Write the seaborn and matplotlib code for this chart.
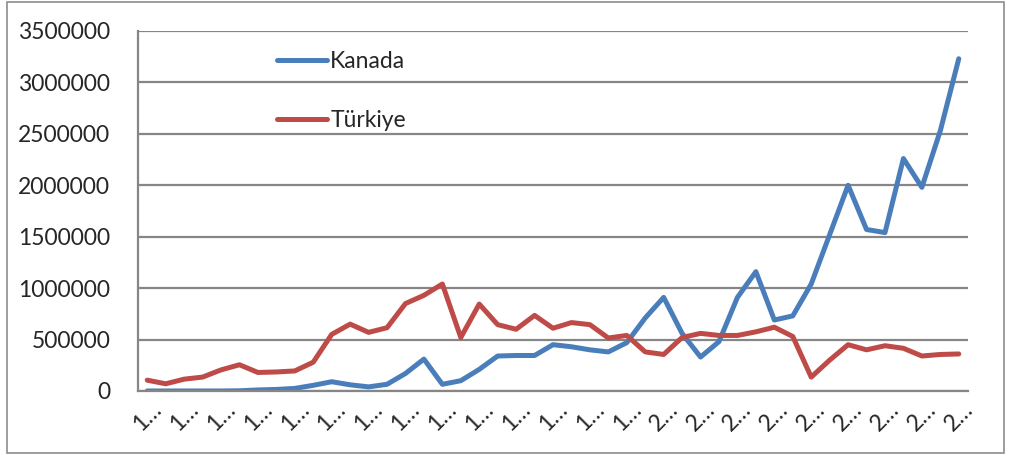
import matplotlib
matplotlib.use("Agg")
import matplotlib.pyplot as plt
import pandas as pd
import seaborn as sns
from matplotlib.patches import Rectangle

# data
years = list(range(1972, 2017))
kanada = [0, 0, 0, 0, 0, 2000, 10000, 15000, 25000, 55000,
          90000, 60000, 40000, 65000, 170000, 310000, 65000, 100000, 210000, 340000,
          345000, 345000, 450000, 430000, 400000, 380000, 470000, 710000, 910000, 560000,
          330000, 480000, 910000, 1160000, 690000, 730000, 1040000, 1520000, 2000000, 1570000,
          1540000, 2260000, 1980000, 2530000, 3230000]
turkiye = [105000, 70000, 115000, 135000, 205000, 255000, 180000, 185000, 195000, 280000,
           550000, 650000, 570000, 615000, 850000, 930000, 1040000, 520000, 845000, 645000,
           600000, 735000, 610000, 665000, 645000, 515000, 540000, 380000, 355000, 520000,
           560000, 540000, 540000, 575000, 620000, 530000, 135000, 300000, 450000, 400000,
           440000, 415000, 340000, 355000, 360000]
series_names = ["Kanada", "Türkiye"]
colors = ["#4A7EBB", "#BE4B48"]
y_ticks = [0, 500000, 1000000, 1500000, 2000000, 2500000, 3000000, 3500000]
# Excel truncated the year labels to the first digit
x_labels = [str(y)[0] + "\u2026" for y in years]

df = pd.DataFrame({"idx": list(range(len(years))) * 2,
                   "value": kanada + turkiye,
                   "country": [series_names[0]] * len(years) + [series_names[1]] * len(years)})

sns.set_style("white")
plt.rcParams["font.family"] = ["Lato", "DejaVu Sans"]
fs = 16.5

fig = plt.figure(figsize=(10.12, 4.55), dpi=100)
ax = fig.add_axes([0.1364, 0.1407, 0.8201, 0.7912])
fig.patches.append(Rectangle((0.007, 0.004), 0.985, 0.991, transform=fig.transFigure,
                             fill=False, edgecolor="#8c8c8c", linewidth=1.2))

sns.lineplot(data=df, x="idx", y="value", hue="country", palette=colors,
             linewidth=3.6, ax=ax, solid_capstyle="round")

ax.set_xlim(-0.5, len(years) - 0.5)
ax.set_ylim(0, 3500000)
ax.set_yticks(y_ticks)
ax.set_yticklabels([str(v) for v in y_ticks], fontsize=fs)
ax.yaxis.grid(True, color="#868686", linewidth=1.6)
ax.set_axisbelow(True)

# label every second category, tick marks at category boundaries
ax.set_xticks(list(range(0, len(years), 2)))
ax.set_xticklabels(x_labels[::2], rotation=45, ha="center", va="top", fontsize=fs)
ax.set_xticks([i - 0.5 for i in range(len(years) + 1)], minor=True)
ax.tick_params(axis="x", which="major", length=0, pad=5.5)
ax.tick_params(axis="x", which="minor", length=7, color="#868686", width=1.4)
ax.tick_params(axis="y", length=6, color="#868686", width=1.4, pad=14)
ax.set_xlabel("")
ax.set_ylabel("")

for s in ["top", "right"]:
    ax.spines[s].set_visible(False)
for s in ["left", "bottom"]:
    ax.spines[s].set_color("#868686")
    ax.spines[s].set_linewidth(1.6)

leg = ax.legend(loc="upper left", bbox_to_anchor=(0.142, 1.003), frameon=False,
                fontsize=fs, handlelength=2.2, handletextpad=0.15, labelspacing=1.7)
for line in leg.get_lines():
    line.set_linewidth(3.6)
    line.set_solid_capstyle("round")

fig.savefig("out.png", dpi=100)
